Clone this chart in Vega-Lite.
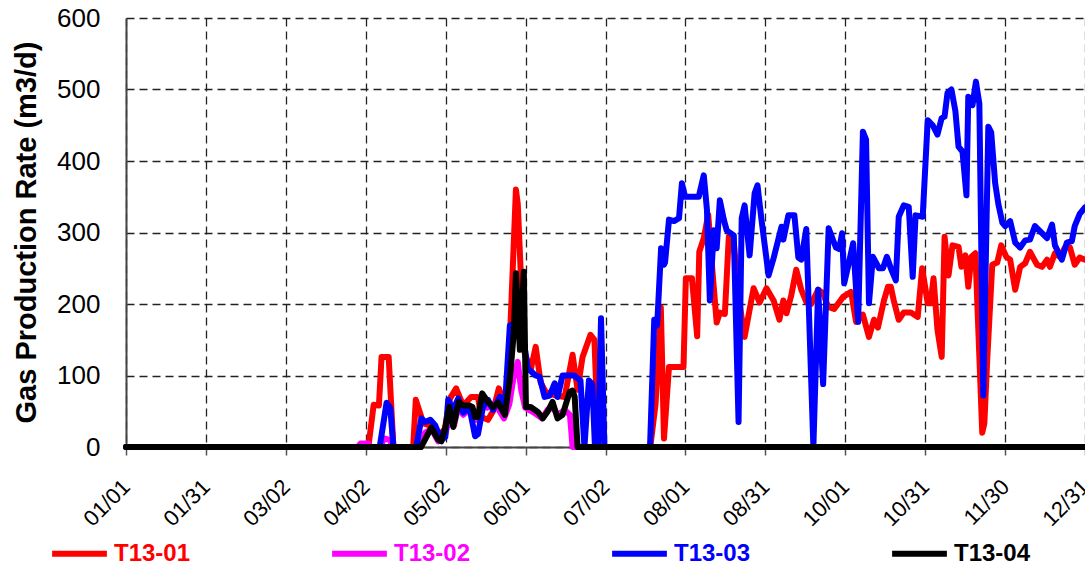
{
"$schema": "https://vega.github.io/schema/vega-lite/v6.json",
"width": 959, "height": 429,
"autosize": {"type": "none"},
"padding": {"left": 126, "top": 18, "right": 0, "bottom": 120},
"background": "white",
"config": {"view": {"stroke": null}, "font": "Liberation Sans"},
"data": {"values": [
{"well":"T13-01","day":0,"rate":0},{"well":"T13-01","day":92,"rate":0},{"well":"T13-01","day":94,"rate":59},{"well":"T13-01","day":96,"rate":58},{"well":"T13-01","day":97,"rate":126},{"well":"T13-01","day":99.7,"rate":126},{"well":"T13-01","day":101.5,"rate":0},{"well":"T13-01","day":109,"rate":0},{"well":"T13-01","day":110,"rate":66},{"well":"T13-01","day":112.9,"rate":33},{"well":"T13-01","day":115.5,"rate":30},{"well":"T13-01","day":118.5,"rate":15},{"well":"T13-01","day":121,"rate":25},{"well":"T13-01","day":123,"rate":68},{"well":"T13-01","day":125.3,"rate":82},{"well":"T13-01","day":128,"rate":58},{"well":"T13-01","day":131,"rate":70},{"well":"T13-01","day":133.6,"rate":70},{"well":"T13-01","day":134.8,"rate":42},{"well":"T13-01","day":137.4,"rate":38},{"well":"T13-01","day":139.3,"rate":50},{"well":"T13-01","day":141.5,"rate":82},{"well":"T13-01","day":143.8,"rate":60},{"well":"T13-01","day":145,"rate":65},{"well":"T13-01","day":145.7,"rate":150},{"well":"T13-01","day":146.8,"rate":250},{"well":"T13-01","day":148,"rate":360},{"well":"T13-01","day":148.7,"rate":340},{"well":"T13-01","day":149.9,"rate":238},{"well":"T13-01","day":150.6,"rate":140},{"well":"T13-01","day":151.8,"rate":126},{"well":"T13-01","day":153.6,"rate":108},{"well":"T13-01","day":155.5,"rate":140},{"well":"T13-01","day":157.4,"rate":90},{"well":"T13-01","day":159.3,"rate":77},{"well":"T13-01","day":163,"rate":72},{"well":"T13-01","day":166.5,"rate":70},{"well":"T13-01","day":169.5,"rate":129},{"well":"T13-01","day":171.4,"rate":80},{"well":"T13-01","day":173.3,"rate":126},{"well":"T13-01","day":176.3,"rate":157},{"well":"T13-01","day":177.8,"rate":150},{"well":"T13-01","day":179.3,"rate":0},{"well":"T13-01","day":199,"rate":0},{"well":"T13-01","day":201,"rate":60},{"well":"T13-01","day":203,"rate":195},{"well":"T13-01","day":204.2,"rate":12},{"well":"T13-01","day":206.1,"rate":112},{"well":"T13-01","day":211.6,"rate":112},{"well":"T13-01","day":212.5,"rate":236},{"well":"T13-01","day":214.8,"rate":236},{"well":"T13-01","day":216.8,"rate":155},{"well":"T13-01","day":217.6,"rate":273},{"well":"T13-01","day":219.3,"rate":292},{"well":"T13-01","day":221,"rate":325},{"well":"T13-01","day":222.5,"rate":250},{"well":"T13-01","day":224.2,"rate":174},{"well":"T13-01","day":225.4,"rate":188},{"well":"T13-01","day":227.3,"rate":186},{"well":"T13-01","day":228.8,"rate":294},{"well":"T13-01","day":230.7,"rate":285},{"well":"T13-01","day":232.9,"rate":200},{"well":"T13-01","day":234.8,"rate":154},{"well":"T13-01","day":238.2,"rate":222},{"well":"T13-01","day":240.5,"rate":202},{"well":"T13-01","day":243.1,"rate":222},{"well":"T13-01","day":245.8,"rate":205},{"well":"T13-01","day":248,"rate":178},{"well":"T13-01","day":249.5,"rate":205},{"well":"T13-01","day":250.7,"rate":187},{"well":"T13-01","day":252.5,"rate":212},{"well":"T13-01","day":254.4,"rate":248},{"well":"T13-01","day":256.3,"rate":220},{"well":"T13-01","day":258.2,"rate":203},{"well":"T13-01","day":260.1,"rate":200},{"well":"T13-01","day":262.7,"rate":220},{"well":"T13-01","day":264.6,"rate":215},{"well":"T13-01","day":266.5,"rate":196},{"well":"T13-01","day":268.8,"rate":193},{"well":"T13-01","day":272.2,"rate":210},{"well":"T13-01","day":275.2,"rate":217},{"well":"T13-01","day":277.1,"rate":175},{"well":"T13-01","day":279.7,"rate":185},{"well":"T13-01","day":282,"rate":154},{"well":"T13-01","day":283.9,"rate":178},{"well":"T13-01","day":285.4,"rate":167},{"well":"T13-01","day":287.7,"rate":205},{"well":"T13-01","day":289.2,"rate":224},{"well":"T13-01","day":290.3,"rate":224},{"well":"T13-01","day":291.4,"rate":205},{"well":"T13-01","day":293.3,"rate":178},{"well":"T13-01","day":295.2,"rate":188},{"well":"T13-01","day":297.9,"rate":188},{"well":"T13-01","day":300.5,"rate":182},{"well":"T13-01","day":302.2,"rate":250},{"well":"T13-01","day":304.3,"rate":201},{"well":"T13-01","day":305.4,"rate":201},{"well":"T13-01","day":306.5,"rate":236},{"well":"T13-01","day":308,"rate":164},{"well":"T13-01","day":309.6,"rate":126},{"well":"T13-01","day":310.7,"rate":294},{"well":"T13-01","day":312.2,"rate":240},{"well":"T13-01","day":313.7,"rate":282},{"well":"T13-01","day":316,"rate":280},{"well":"T13-01","day":317.1,"rate":252},{"well":"T13-01","day":318.6,"rate":268},{"well":"T13-01","day":319.7,"rate":224},{"well":"T13-01","day":320.9,"rate":266},{"well":"T13-01","day":322.4,"rate":271},{"well":"T13-01","day":325,"rate":20},{"well":"T13-01","day":325.8,"rate":33},{"well":"T13-01","day":326.9,"rate":123},{"well":"T13-01","day":328.8,"rate":255},{"well":"T13-01","day":330.7,"rate":258},{"well":"T13-01","day":332.2,"rate":282},{"well":"T13-01","day":334.1,"rate":266},{"well":"T13-01","day":335.6,"rate":262},{"well":"T13-01","day":337.5,"rate":220},{"well":"T13-01","day":339.4,"rate":252},{"well":"T13-01","day":341.3,"rate":257},{"well":"T13-01","day":343.1,"rate":273},{"well":"T13-01","day":345.8,"rate":255},{"well":"T13-01","day":347.7,"rate":252},{"well":"T13-01","day":349.6,"rate":262},{"well":"T13-01","day":350.7,"rate":252},{"well":"T13-01","day":352.6,"rate":271},{"well":"T13-01","day":354.5,"rate":266},{"well":"T13-01","day":356.4,"rate":279},{"well":"T13-01","day":358.3,"rate":279},{"well":"T13-01","day":360.1,"rate":255},{"well":"T13-01","day":362,"rate":265},{"well":"T13-01","day":364,"rate":262},
{"well":"T13-02","day":0,"rate":0},{"well":"T13-02","day":88,"rate":0},{"well":"T13-02","day":89,"rate":5},{"well":"T13-02","day":92,"rate":5},{"well":"T13-02","day":93,"rate":0},{"well":"T13-02","day":96.5,"rate":0},{"well":"T13-02","day":98,"rate":12},{"well":"T13-02","day":100,"rate":10},{"well":"T13-02","day":101.5,"rate":0},{"well":"T13-02","day":112,"rate":0},{"well":"T13-02","day":113.5,"rate":20},{"well":"T13-02","day":116,"rate":25},{"well":"T13-02","day":118.5,"rate":8},{"well":"T13-02","day":121,"rate":15},{"well":"T13-02","day":123,"rate":45},{"well":"T13-02","day":124.5,"rate":30},{"well":"T13-02","day":126,"rate":55},{"well":"T13-02","day":128,"rate":45},{"well":"T13-02","day":131,"rate":55},{"well":"T13-02","day":133,"rate":38},{"well":"T13-02","day":135,"rate":62},{"well":"T13-02","day":137,"rate":55},{"well":"T13-02","day":139,"rate":60},{"well":"T13-02","day":141,"rate":55},{"well":"T13-02","day":143.5,"rate":40},{"well":"T13-02","day":145.5,"rate":60},{"well":"T13-02","day":147,"rate":95},{"well":"T13-02","day":148.7,"rate":119},{"well":"T13-02","day":150,"rate":80},{"well":"T13-02","day":151.5,"rate":55},{"well":"T13-02","day":154,"rate":50},{"well":"T13-02","day":156,"rate":45},{"well":"T13-02","day":158,"rate":40},{"well":"T13-02","day":160,"rate":52},{"well":"T13-02","day":162,"rate":55},{"well":"T13-02","day":164,"rate":45},{"well":"T13-02","day":166.5,"rate":52},{"well":"T13-02","day":168.5,"rate":45},{"well":"T13-02","day":169.5,"rate":0},{"well":"T13-02","day":364,"rate":0},
{"well":"T13-03","day":0,"rate":0},{"well":"T13-03","day":96.3,"rate":0},{"well":"T13-03","day":98.9,"rate":62},{"well":"T13-03","day":100.3,"rate":55},{"well":"T13-03","day":101.5,"rate":0},{"well":"T13-03","day":110.2,"rate":0},{"well":"T13-03","day":112.1,"rate":40},{"well":"T13-03","day":113.6,"rate":35},{"well":"T13-03","day":115.5,"rate":38},{"well":"T13-03","day":117.4,"rate":30},{"well":"T13-03","day":119.7,"rate":10},{"well":"T13-03","day":121.2,"rate":14},{"well":"T13-03","day":122.3,"rate":66},{"well":"T13-03","day":124.2,"rate":52},{"well":"T13-03","day":126.1,"rate":68},{"well":"T13-03","day":128,"rate":48},{"well":"T13-03","day":130.3,"rate":56},{"well":"T13-03","day":132.5,"rate":15},{"well":"T13-03","day":133.6,"rate":18},{"well":"T13-03","day":135.5,"rate":56},{"well":"T13-03","day":137.4,"rate":66},{"well":"T13-03","day":139.3,"rate":52},{"well":"T13-03","day":141.9,"rate":70},{"well":"T13-03","day":143.8,"rate":56},{"well":"T13-03","day":145.7,"rate":170},{"well":"T13-03","day":147,"rate":172},{"well":"T13-03","day":148.5,"rate":175},{"well":"T13-03","day":150.5,"rate":160},{"well":"T13-03","day":152.5,"rate":110},{"well":"T13-03","day":154,"rate":105},{"well":"T13-03","day":155.5,"rate":100},{"well":"T13-03","day":157,"rate":98},{"well":"T13-03","day":158.9,"rate":70},{"well":"T13-03","day":160.8,"rate":72},{"well":"T13-03","day":162.7,"rate":89},{"well":"T13-03","day":163.8,"rate":70},{"well":"T13-03","day":165.7,"rate":100},{"well":"T13-03","day":170,"rate":100},{"well":"T13-03","day":172.5,"rate":93},{"well":"T13-03","day":174,"rate":0},{"well":"T13-03","day":175.7,"rate":93},{"well":"T13-03","day":177,"rate":88},{"well":"T13-03","day":178,"rate":0},{"well":"T13-03","day":179.2,"rate":0},{"well":"T13-03","day":180.3,"rate":180},{"well":"T13-03","day":181.6,"rate":0},{"well":"T13-03","day":198.9,"rate":0},{"well":"T13-03","day":200.5,"rate":178},{"well":"T13-03","day":201.6,"rate":170},{"well":"T13-03","day":203.1,"rate":278},{"well":"T13-03","day":204.2,"rate":255},{"well":"T13-03","day":204.6,"rate":258},{"well":"T13-03","day":206.1,"rate":318},{"well":"T13-03","day":208,"rate":316},{"well":"T13-03","day":209.9,"rate":320},{"well":"T13-03","day":211,"rate":369},{"well":"T13-03","day":212.2,"rate":350},{"well":"T13-03","day":217.4,"rate":350},{"well":"T13-03","day":219.3,"rate":380},{"well":"T13-03","day":220.5,"rate":332},{"well":"T13-03","day":221.6,"rate":205},{"well":"T13-03","day":223.1,"rate":303},{"well":"T13-03","day":224.2,"rate":278},{"well":"T13-03","day":225.4,"rate":345},{"well":"T13-03","day":226.9,"rate":318},{"well":"T13-03","day":228,"rate":303},{"well":"T13-03","day":230.7,"rate":296},{"well":"T13-03","day":232.5,"rate":35},{"well":"T13-03","day":233.7,"rate":320},{"well":"T13-03","day":234.8,"rate":338},{"well":"T13-03","day":236.7,"rate":268},{"well":"T13-03","day":238.6,"rate":355},{"well":"T13-03","day":239.7,"rate":366},{"well":"T13-03","day":241.2,"rate":318},{"well":"T13-03","day":243.9,"rate":240},{"well":"T13-03","day":245.8,"rate":264},{"well":"T13-03","day":248.8,"rate":308},{"well":"T13-03","day":249.5,"rate":290},{"well":"T13-03","day":251.4,"rate":324},{"well":"T13-03","day":253.7,"rate":324},{"well":"T13-03","day":255.2,"rate":265},{"well":"T13-03","day":256.3,"rate":262},{"well":"T13-03","day":258.2,"rate":305},{"well":"T13-03","day":260.9,"rate":0},{"well":"T13-03","day":262.7,"rate":220},{"well":"T13-03","day":264.6,"rate":88},{"well":"T13-03","day":266.7,"rate":306},{"well":"T13-03","day":268.4,"rate":289},{"well":"T13-03","day":269.5,"rate":279},{"well":"T13-03","day":270.7,"rate":277},{"well":"T13-03","day":271.8,"rate":299},{"well":"T13-03","day":272.6,"rate":229},{"well":"T13-03","day":274.4,"rate":258},{"well":"T13-03","day":276,"rate":285},{"well":"T13-03","day":277.9,"rate":175},{"well":"T13-03","day":279.7,"rate":441},{"well":"T13-03","day":280.9,"rate":430},{"well":"T13-03","day":282,"rate":201},{"well":"T13-03","day":283.5,"rate":266},{"well":"T13-03","day":285.8,"rate":250},{"well":"T13-03","day":287.3,"rate":250},{"well":"T13-03","day":288.8,"rate":266},{"well":"T13-03","day":290.3,"rate":250},{"well":"T13-03","day":292.2,"rate":233},{"well":"T13-03","day":293.3,"rate":322},{"well":"T13-03","day":295.2,"rate":338},{"well":"T13-03","day":297.1,"rate":336},{"well":"T13-03","day":298.6,"rate":238},{"well":"T13-03","day":299.7,"rate":324},{"well":"T13-03","day":302.4,"rate":322},{"well":"T13-03","day":304.3,"rate":457},{"well":"T13-03","day":306.2,"rate":450},{"well":"T13-03","day":308,"rate":437},{"well":"T13-03","day":309.6,"rate":460},{"well":"T13-03","day":310.7,"rate":462},{"well":"T13-03","day":311.8,"rate":495},{"well":"T13-03","day":313.3,"rate":500},{"well":"T13-03","day":314.8,"rate":470},{"well":"T13-03","day":316,"rate":420},{"well":"T13-03","day":317.5,"rate":413},{"well":"T13-03","day":319,"rate":352},{"well":"T13-03","day":319.7,"rate":490},{"well":"T13-03","day":321.3,"rate":478},{"well":"T13-03","day":322.6,"rate":511},{"well":"T13-03","day":323.9,"rate":480},{"well":"T13-03","day":325.4,"rate":72},{"well":"T13-03","day":327.3,"rate":448},{"well":"T13-03","day":328.4,"rate":440},{"well":"T13-03","day":329.9,"rate":369},{"well":"T13-03","day":331.1,"rate":340},{"well":"T13-03","day":332.6,"rate":314},{"well":"T13-03","day":333.7,"rate":309},{"well":"T13-03","day":335.6,"rate":316},{"well":"T13-03","day":337.5,"rate":286},{"well":"T13-03","day":339.4,"rate":279},{"well":"T13-03","day":341.3,"rate":289},{"well":"T13-03","day":343.1,"rate":290},{"well":"T13-03","day":345,"rate":309},{"well":"T13-03","day":346.9,"rate":302},{"well":"T13-03","day":349.6,"rate":292},{"well":"T13-03","day":351.5,"rate":311},{"well":"T13-03","day":352.6,"rate":282},{"well":"T13-03","day":355.2,"rate":262},{"well":"T13-03","day":357.1,"rate":286},{"well":"T13-03","day":359,"rate":288},{"well":"T13-03","day":360.1,"rate":309},{"well":"T13-03","day":362,"rate":326},{"well":"T13-03","day":364,"rate":335},
{"well":"T13-04","day":0,"rate":0},{"well":"T13-04","day":112,"rate":0},{"well":"T13-04","day":115.9,"rate":27},{"well":"T13-04","day":118.5,"rate":10},{"well":"T13-04","day":119.7,"rate":8},{"well":"T13-04","day":121.2,"rate":27},{"well":"T13-04","day":122.7,"rate":56},{"well":"T13-04","day":124.2,"rate":28},{"well":"T13-04","day":126.3,"rate":63},{"well":"T13-04","day":128,"rate":58},{"well":"T13-04","day":130.3,"rate":58},{"well":"T13-04","day":131.5,"rate":56},{"well":"T13-04","day":132.5,"rate":42},{"well":"T13-04","day":133.6,"rate":42},{"well":"T13-04","day":135.2,"rate":75},{"well":"T13-04","day":137.4,"rate":63},{"well":"T13-04","day":139.3,"rate":56},{"well":"T13-04","day":141.2,"rate":62},{"well":"T13-04","day":143.8,"rate":45},{"well":"T13-04","day":145.7,"rate":95},{"well":"T13-04","day":147.2,"rate":160},{"well":"T13-04","day":148,"rate":243},{"well":"T13-04","day":149.5,"rate":136},{"well":"T13-04","day":151,"rate":245},{"well":"T13-04","day":151.8,"rate":56},{"well":"T13-04","day":153.6,"rate":56},{"well":"T13-04","day":156.3,"rate":49},{"well":"T13-04","day":158.2,"rate":40},{"well":"T13-04","day":160.1,"rate":50},{"well":"T13-04","day":161.9,"rate":63},{"well":"T13-04","day":163.8,"rate":40},{"well":"T13-04","day":165.7,"rate":45},{"well":"T13-04","day":168.4,"rate":77},{"well":"T13-04","day":169.5,"rate":79},{"well":"T13-04","day":170.3,"rate":70},{"well":"T13-04","day":171.4,"rate":0},{"well":"T13-04","day":364,"rate":0}
]},
"mark": {"type": "line", "strokeWidth": 6, "strokeJoin": "round", "strokeCap": "round"},
"encoding": {
"x": {"field": "day", "type": "quantitative",
 "scale": {"domain": [0, 364], "nice": false, "zero": false},
 "axis": {"title": null, "values": [0, 30.3333, 60.6667, 91, 121.3333, 151.6667, 182, 212.3333, 242.6667, 273, 303.3333, 333.6667, 364],
  "labelExpr": "['01/01','01/31','03/02','04/02','05/02','06/01','07/02','08/01','08/31','10/01','10/31','11/30','12/31'][round(datum.value/30.33333)]",
  "labelAngle": -45, "labelAlign": "right", "labelBaseline": "middle", "labelFontSize": 22, "labelColor": "#000",
  "labelPadding": 28, "labelDx": -13, "labelFlush": false, "labelOverlap": false, "labelBound": false,
  "tickSize": 8, "tickColor": "#555", "tickWidth": 1.5, "domainColor": "#444", "domainWidth": 2,
  "grid": true, "gridColor": "#222", "gridDash": [8, 5], "gridWidth": 1.3, "gridOpacity": 1}},
"y": {"field": "rate", "type": "quantitative",
 "scale": {"domain": [0, 600], "nice": false},
 "axis": {"title": "Gas Production Rate (m3/d)", "values": [0, 100, 200, 300, 400, 500, 600],
  "labelFontSize": 26, "labelColor": "#000", "labelPadding": 26, "ticks": false, "tickSize": 0,
  "domainColor": "#444", "domainWidth": 2,
  "grid": true, "gridColor": "#222", "gridDash": [8, 5], "gridWidth": 1.3, "gridOpacity": 1,
  "titleFontSize": 29, "titleFontWeight": "bold", "titleColor": "#000", "titleAngle": 270,
  "titleX": -100, "titleY": 214, "titleAlign": "center", "titleBaseline": "middle"}},
"color": {"field": "well", "type": "nominal",
 "scale": {"domain": ["T13-01", "T13-02", "T13-03", "T13-04"], "range": ["#ff0000", "#ff00ff", "#0000ff", "#000000"]},
 "legend": {"title": null, "orient": "none", "legendX": -77, "legendY": 505, "direction": "horizontal", "columns": 4,
  "columnPadding": 129, "symbolType": "stroke", "symbolStrokeWidth": 6, "symbolSize": 3000,
  "labelFontSize": 24, "labelFontWeight": "bold", "labelOffset": 4, "labelLimit": 0,
  "encode": {"labels": {"update": {"fill": {"scale": "color", "field": "value"}}}}}}
}
}
